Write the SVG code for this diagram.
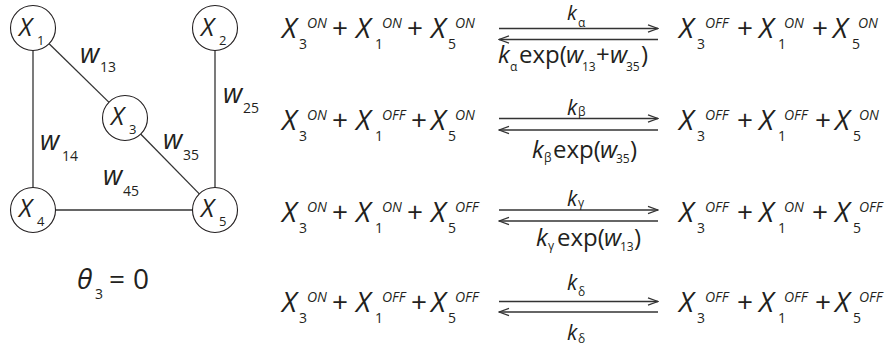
<svg xmlns="http://www.w3.org/2000/svg" width="895" height="347" viewBox="0 0 895 347">
<style>
text{font-family:"Open Sans","Noto Sans","DejaVu Sans",sans-serif;fill:#231f20}
.it{font-style:italic}
.nx{font-size:25px;font-style:italic}
.ns{font-size:13px}
.w{font-size:27px;font-style:italic}
.ws{font-size:14px}
.eq{font-size:28px}
.sb{font-size:14px}
.sp{font-size:14px;font-style:italic}
.kl{font-size:21px}
.ks{font-size:12px}
.kb{font-size:24px}
.kbs{font-size:12px}
.edge{stroke:#333;stroke-width:1.3;fill:none}
.node{fill:#fff;stroke:#231f20;stroke-width:1.1}
.arr{stroke:#333;stroke-width:1.3;fill:none}
</style>
<defs>
<marker id="chev" markerUnits="userSpaceOnUse" markerWidth="12" markerHeight="10" viewBox="0 0 12 10" refX="11" refY="5" orient="auto">
<path d="M1,1.4 L11,5 L1,8.6" fill="none" stroke="#333" stroke-width="1.2"/>
</marker>
</defs>

<g id="connectors">
<line class="edge" x1="33" y1="50.5" x2="33" y2="187.5"/>
<line class="edge" x1="215" y1="50.5" x2="215" y2="187.5"/>
<line class="edge" x1="49.1" y1="43.7" x2="109.3" y2="102.6"/>
<line class="edge" x1="140.4" y1="133.7" x2="199.3" y2="193.9"/>
<line class="edge" x1="56" y1="210" x2="192.5" y2="210"/>
<text><tspan class="w" x="80" y="63">w</tspan><tspan class="ws" x="100" y="72">13</tspan></text>
<text><tspan class="w" x="223" y="103">w</tspan><tspan class="ws" x="243" y="113">25</tspan></text>
<text><tspan class="w" x="40" y="150">w</tspan><tspan class="ws" x="62" y="161">14</tspan></text>
<text><tspan class="w" x="163" y="149">w</tspan><tspan class="ws" x="183" y="160">35</tspan></text>
<text><tspan class="w" x="103" y="185">w</tspan><tspan class="ws" x="123" y="196">45</tspan></text>
</g>

<g id="node-X1"><circle class="node" cx="33" cy="28" r="22.5"/><text><tspan class="nx" x="19" y="36">X</tspan><tspan class="ns" x="37" y="45">1</tspan></text></g>
<g id="node-X2"><circle class="node" cx="215" cy="28" r="22.5"/><text><tspan class="nx" x="201" y="36">X</tspan><tspan class="ns" x="219" y="45">2</tspan></text></g>
<g id="node-X3"><circle class="node" cx="125" cy="118" r="22.5"/><text><tspan class="nx" x="111" y="125">X</tspan><tspan class="ns" x="129" y="134">3</tspan></text></g>
<g id="node-X4"><circle class="node" cx="33" cy="210" r="22.5"/><text><tspan class="nx" x="19" y="217">X</tspan><tspan class="ns" x="37" y="226">4</tspan></text></g>
<g id="node-X5"><circle class="node" cx="215" cy="210" r="22.5"/><text><tspan class="nx" x="201" y="217">X</tspan><tspan class="ns" x="219" y="226">5</tspan></text></g>

<g id="theta">
<text class="eq"><tspan class="it" x="77" y="289">θ</tspan><tspan class="sb" x="95" y="299">3</tspan><tspan x="109" y="289">=</tspan><tspan x="133" y="289">0</tspan></text>
</g>

<g id="reaction-1">
<text class="eq">
<tspan class="it" x="282" y="38">X</tspan><tspan class="sb" x="299" y="49">3</tspan><tspan class="sp" x="307" y="28">ON</tspan>
<tspan x="332" y="38">+</tspan>
<tspan class="it" x="356" y="38">X</tspan><tspan class="sb" x="375" y="49">1</tspan><tspan class="sp" x="382" y="28">ON</tspan>
<tspan x="407" y="38">+</tspan>
<tspan class="it" x="431" y="38">X</tspan><tspan class="sb" x="448" y="49">5</tspan><tspan class="sp" x="455" y="28">ON</tspan>
</text>
<line class="arr" x1="499" y1="28.5" x2="658" y2="28.5" marker-end="url(#chev)"/>
<line class="arr" x1="658" y1="39.5" x2="499" y2="39.5" marker-end="url(#chev)"/>
<text><tspan class="it" style="font-size:20px" x="567" y="20">k</tspan><tspan class="ks" x="578" y="26.5">α</tspan></text>
<text><tspan class="kb it" x="498" y="62.5">k</tspan><tspan class="ks" x="510" y="71">α</tspan><tspan class="kb" x="519" y="62.5">exp(</tspan><tspan class="kb it" x="566" y="62.5">w</tspan><tspan class="kbs" x="582" y="71">13</tspan><tspan class="kb" x="596" y="62.5">+</tspan><tspan class="kb it" x="610" y="62.5">w</tspan><tspan class="kbs" x="626" y="71">35</tspan><tspan class="kb" x="641" y="62.5">)</tspan></text>
<text class="eq">
<tspan class="it" x="679" y="38">X</tspan><tspan class="sb" x="697" y="49">3</tspan><tspan class="sp" x="705" y="28">OFF</tspan>
<tspan x="737" y="38">+</tspan>
<tspan class="it" x="759" y="38">X</tspan><tspan class="sb" x="778" y="49">1</tspan><tspan class="sp" x="784" y="28">ON</tspan>
<tspan x="812" y="38">+</tspan>
<tspan class="it" x="833" y="38">X</tspan><tspan class="sb" x="852" y="49">5</tspan><tspan class="sp" x="858" y="28">ON</tspan>
</text>
</g>

<g id="reaction-2">
<text class="eq">
<tspan class="it" x="282" y="130">X</tspan><tspan class="sb" x="299" y="141">3</tspan><tspan class="sp" x="307" y="120">ON</tspan>
<tspan x="332" y="130">+</tspan>
<tspan class="it" x="356" y="130">X</tspan><tspan class="sb" x="375" y="141">1</tspan><tspan class="sp" x="382" y="120">OFF</tspan>
<tspan x="411" y="130">+</tspan>
<tspan class="it" x="431" y="130">X</tspan><tspan class="sb" x="448" y="141">5</tspan><tspan class="sp" x="455" y="120">ON</tspan>
</text>
<line class="arr" x1="499" y1="118.5" x2="658" y2="118.5" marker-end="url(#chev)"/>
<line class="arr" x1="658" y1="130" x2="499" y2="130" marker-end="url(#chev)"/>
<text><tspan class="kl it" x="567" y="115">k</tspan><tspan class="ks" x="578" y="115.5">β</tspan></text>
<text><tspan class="kb it" x="532" y="158">k</tspan><tspan class="ks" x="544" y="162">β</tspan><tspan class="kb" x="553" y="158">exp(</tspan><tspan class="kb it" x="600" y="158">w</tspan><tspan class="kbs" x="616" y="163">35</tspan><tspan class="kb" x="630" y="158">)</tspan></text>
<text class="eq">
<tspan class="it" x="679" y="130">X</tspan><tspan class="sb" x="697" y="141">3</tspan><tspan class="sp" x="705" y="120">OFF</tspan>
<tspan x="737" y="130">+</tspan>
<tspan class="it" x="759" y="130">X</tspan><tspan class="sb" x="778" y="141">1</tspan><tspan class="sp" x="784" y="120">OFF</tspan>
<tspan x="815" y="130">+</tspan>
<tspan class="it" x="835" y="130">X</tspan><tspan class="sb" x="853" y="141">5</tspan><tspan class="sp" x="859" y="120">ON</tspan>
</text>
</g>

<g id="reaction-3">
<text class="eq">
<tspan class="it" x="282" y="222">X</tspan><tspan class="sb" x="299" y="233">3</tspan><tspan class="sp" x="307" y="212">ON</tspan>
<tspan x="332" y="222">+</tspan>
<tspan class="it" x="356" y="222">X</tspan><tspan class="sb" x="375" y="233">1</tspan><tspan class="sp" x="382" y="212">ON</tspan>
<tspan x="407" y="222">+</tspan>
<tspan class="it" x="431" y="222">X</tspan><tspan class="sb" x="448" y="233">5</tspan><tspan class="sp" x="455" y="212">OFF</tspan>
</text>
<line class="arr" x1="499" y1="210" x2="658" y2="210" marker-end="url(#chev)"/>
<line class="arr" x1="658" y1="221" x2="499" y2="221" marker-end="url(#chev)"/>
<text><tspan class="kl it" x="567" y="206">k</tspan><tspan class="ks" x="578" y="206.5">γ</tspan></text>
<text><tspan class="kb it" x="536" y="246">k</tspan><tspan class="ks" x="548" y="250">γ</tspan><tspan class="kb" x="557" y="246">exp(</tspan><tspan class="kb it" x="604" y="246">w</tspan><tspan class="kbs" x="620" y="251">13</tspan><tspan class="kb" x="634" y="246">)</tspan></text>
<text class="eq">
<tspan class="it" x="679" y="222">X</tspan><tspan class="sb" x="697" y="233">3</tspan><tspan class="sp" x="705" y="212">OFF</tspan>
<tspan x="737" y="222">+</tspan>
<tspan class="it" x="759" y="222">X</tspan><tspan class="sb" x="778" y="233">1</tspan><tspan class="sp" x="784" y="212">ON</tspan>
<tspan x="812" y="222">+</tspan>
<tspan class="it" x="835" y="222">X</tspan><tspan class="sb" x="853" y="233">5</tspan><tspan class="sp" x="859" y="212">OFF</tspan>
</text>
</g>

<g id="reaction-4">
<text class="eq">
<tspan class="it" x="282" y="312">X</tspan><tspan class="sb" x="299" y="323">3</tspan><tspan class="sp" x="307" y="302">ON</tspan>
<tspan x="332" y="312">+</tspan>
<tspan class="it" x="356" y="312">X</tspan><tspan class="sb" x="375" y="323">1</tspan><tspan class="sp" x="382" y="302">OFF</tspan>
<tspan x="411" y="312">+</tspan>
<tspan class="it" x="431" y="312">X</tspan><tspan class="sb" x="448" y="323">5</tspan><tspan class="sp" x="455" y="302">OFF</tspan>
</text>
<line class="arr" x1="499" y1="301.5" x2="658" y2="301.5" marker-end="url(#chev)"/>
<line class="arr" x1="658" y1="312" x2="499" y2="312" marker-end="url(#chev)"/>
<text><tspan class="kl it" x="567" y="290">k</tspan><tspan class="ks" x="578" y="296">δ</tspan></text>
<text><tspan class="kl it" x="567" y="340">k</tspan><tspan class="ks" x="578" y="343">δ</tspan></text>
<text class="eq">
<tspan class="it" x="679" y="312">X</tspan><tspan class="sb" x="697" y="323">3</tspan><tspan class="sp" x="705" y="302">OFF</tspan>
<tspan x="737" y="312">+</tspan>
<tspan class="it" x="759" y="312">X</tspan><tspan class="sb" x="778" y="323">1</tspan><tspan class="sp" x="784" y="302">OFF</tspan>
<tspan x="815" y="312">+</tspan>
<tspan class="it" x="835" y="312">X</tspan><tspan class="sb" x="853" y="323">5</tspan><tspan class="sp" x="859" y="302">OFF</tspan>
</text>
</g>
</svg>
